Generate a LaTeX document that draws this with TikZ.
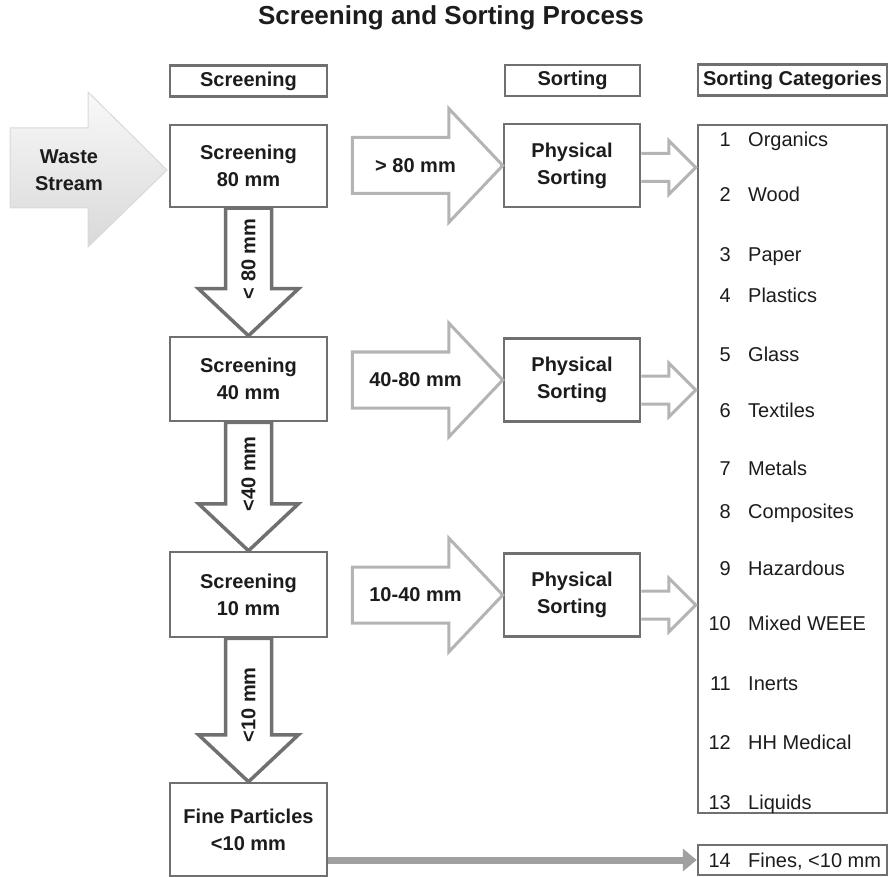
\documentclass[tikz,border=0pt]{standalone}
\usepackage{fontspec}
\setmainfont{Liberation Sans}
\usepackage{xcolor}
\definecolor{boxgray}{RGB}{112,112,112}
\definecolor{lightarrow}{RGB}{180,180,180}
\definecolor{linegray}{RGB}{160,160,160}
\definecolor{inkblack}{RGB}{28,28,28}
\usepackage{tikz}
\usetikzlibrary{calc}
\usetikzlibrary{arrows.meta}
\tikzset{
  maintitle/.style={font=\bfseries\fontsize{26}{30}\selectfont, text=inkblack},
  box/.style={draw=boxgray, line width=2.5pt, fill=white, align=center, inner sep=0pt,
    font=\bfseries\fontsize{20}{27}\selectfont, text=inkblack},
  headbox/.style={box, line width=2.2pt, minimum height=31pt},
  sievearrow/.style={draw=boxgray, line width=3.5pt, fill=white, line join=miter},
  passarrow/.style={draw=lightarrow, line width=3pt, fill=white, line join=miter},
  wastearrow/.style={draw=gray!30, line width=1pt, top color=gray!5, bottom color=gray!30},
  blocklabel/.style={font=\bfseries\fontsize{20}{27}\selectfont, text=inkblack, align=center},
  catnum/.style={anchor=base east, inner sep=0pt, font=\fontsize{20}{24}\selectfont, text=inkblack},
  catlab/.style={anchor=base west, inner sep=0pt, font=\fontsize{20}{24}\selectfont, text=inkblack},
  fineline/.style={draw=linegray, line width=7pt, -{Triangle[width=22pt,length=14pt]}},
}

% block arrow pointing down from #1 to #2
\newcommand{\sievedown}[3]{%
  \draw[sievearrow] let \p1=(#1.south), \p2=(#2.north) in
    (\x1-23pt,\y1) -- (\x1+23pt,\y1) -- (\x1+23pt,\y2+47pt) -- (\x1+50pt,\y2+47pt)
    -- (\x1,\y2) -- (\x1-50pt,\y2+47pt) -- (\x1-23pt,\y2+47pt) -- cycle;
  \node[blocklabel, rotate=90] at ($(#2.north)+(0,-77)$) {#3};}

% wide block arrow pointing right from #1 to #2
\newcommand{\passright}[3]{%
  \draw[passarrow] let \p1=(#1.east), \p2=(#2.west) in
    (\x1+24pt,\y2+28pt) -- (\x2-54pt,\y2+28pt) -- (\x2-54pt,\y2+57pt) -- (\x2,\y2)
    -- (\x2-54pt,\y2-57pt) -- (\x2-54pt,\y2-28pt) -- (\x1+24pt,\y2-28pt) -- cycle;
  \node[blocklabel] at ($(#1.east)!0.5!(#2.west)$) {#3};}

% small block arrow from #1 into #2, shifted down by #3
\newcommand{\passsmall}[3]{%
  \draw[passarrow] let \p1=(#1.east), \p2=(#2.west) in
    (\x1,\y1-#3+14pt) -- (\x2-28pt,\y1-#3+14pt) -- (\x2-28pt,\y1-#3+27pt) -- (\x2-1pt,\y1-#3)
    -- (\x2-28pt,\y1-#3-27pt) -- (\x2-28pt,\y1-#3-14pt) -- (\x1,\y1-#3-14pt);}

\begin{document}
\begin{tikzpicture}[x=1pt,y=-1pt]
\useasboundingbox (0,0) rectangle (889,877);

\node[maintitle] (title) at (451,18) {Screening and Sorting Process};

% column heads
\node[headbox, minimum width=157pt] (hscreen) at (248.5,81) {Screening};
\node[headbox, minimum width=135pt] (hsort) at (572.5,80.5) {Sorting};
\node[headbox, minimum width=189pt] (hcat) at (792.5,80) {Sorting Categories};

% screening column
\node[box, minimum width=157pt, minimum height=82pt] (scr80) at (248.5,166) {Screening\\80 mm};
\node[box, minimum width=157pt, minimum height=84pt] (scr40) at (248.5,379) {Screening\\40 mm};
\node[box, minimum width=157pt, minimum height=85pt] (scr10) at (248.5,594.5) {Screening\\10 mm};
\node[box, minimum width=157pt, minimum height=93pt] (fine) at (248.5,829.5) {Fine Particles\\<10 mm};

% sorting column
\node[box, minimum width=136pt, minimum height=83pt] (phys1) at (572,165.5) {Physical\\Sorting};
\node[box, minimum width=136pt, minimum height=83pt] (phys2) at (572,380) {Physical\\Sorting};
\node[box, minimum width=136pt, minimum height=83pt] (phys3) at (572,595) {Physical\\Sorting};

% categories
\node[box, minimum width=189pt, minimum height=688pt] (cats) at (792.5,469) {};
\node[box, minimum width=189pt, minimum height=30pt] (fines) at (792.5,860) {};
\foreach \n/\yy/\lab in {1/140/Organics, 2/195/Wood, 3/255/Paper, 4/296/Plastics,
    5/355/Glass, 6/410/Textiles, 7/468/Metals, 8/511/Composites, 9/568/Hazardous,
    10/623/Mixed WEEE, 11/683/Inerts, 12/742/HH Medical, 13/802/Liquids} {
  \node[catnum] (num\n) at (731,{\yy+7}) {\n};
  \node[catlab] (cat\n) at (748,{\yy+7}) {\lab};
}
\node[catnum] (num14) at (731,867) {14};
\node[catlab] (cat14) at (748,867) {Fines, <10 mm};

% incoming waste
\draw[wastearrow] (10,128) -- (88,128) -- (88,92) -- (167,170) -- (88,247) -- (88,208) -- (10,208) -- cycle;
\node[blocklabel] (waste) at (69,170) {Waste\\Stream};

\sievedown{scr80}{scr40}{< 80 mm}
\sievedown{scr40}{scr10}{<40 mm}
\sievedown{scr10}{fine}{<10 mm}

\passright{scr80}{phys1}{> 80 mm}
\passright{scr40}{phys2}{40-80 mm}
\passright{scr10}{phys3}{10-40 mm}

\passsmall{phys1}{cats}{2pt}
\passsmall{phys2}{cats}{10pt}
\passsmall{phys3}{cats}{10pt}

\draw[fineline] (fine.east |- fines.west) -- (fines.west);

\end{tikzpicture}
\end{document}
